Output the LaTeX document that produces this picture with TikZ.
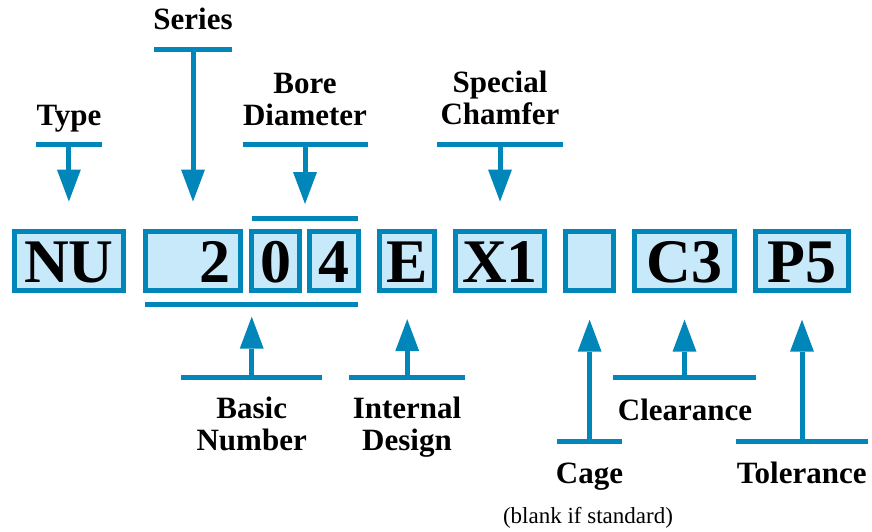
\documentclass[tikz,border=0pt]{standalone}
\usepackage{fontspec}
\setmainfont{Liberation Serif}
\usetikzlibrary{arrows.meta}
\definecolor{nblue}{RGB}{0,134,184}
\definecolor{nfill}{RGB}{199,233,249}
\begin{document}
\begin{tikzpicture}[x=1pt,y=-1pt,
  box/.style={draw=nblue,fill=nfill,line width=5pt,inner sep=0pt,
    minimum height=58.4pt,text height=42pt,text depth=0pt,
    font=\bfseries\fontsize{62}{62}\selectfont},
  lbl/.style={anchor=base,align=center,inner sep=0pt,
    font=\bfseries\fontsize{31}{32}\selectfont},
  bar/.style={draw=nblue,line width=5pt},
  arr/.style={draw=nblue,line width=5pt,
    -{Triangle[width=24pt,length=32pt,line width=0pt]}}]
\useasboundingbox (0,0) rectangle (872,531);
% boxes
\node[box,minimum width=109.3pt] (NU) at (68.9,261) {NU};
\node[box,text width=75pt,inner xsep=10.3pt,align=right] (b2) at (193,261) {2};
\node[box,minimum width=47.4pt] (b0) at (275.5,261) {0};
\node[box,minimum width=48.4pt] (b4) at (334,261) {4};
\node[box,minimum width=55pt] (bE) at (407.2,261) {E};
\node[box,minimum width=88.4pt] (bX) at (500,261) {X1};
\node[box,minimum width=47.7pt] (bB) at (589.6,261) {};
\node[box,minimum width=99.4pt] (bC) at (684.5,261) {C3};
\node[box,minimum width=92.4pt] (bP) at (802,261) {P5};
% brackets
\coordinate (bktTop) at (305,218);
\coordinate (bktBot) at (251.7,304);
\draw[bar] (251.7,218) -- (bktTop) -- (358.3,218);
\draw[bar] (145,304) -- (bktBot) -- (358.3,304);
% top labels
\node[lbl] (lType) at (69,125) {Type};
\node[lbl] (lSeries) at (193,29.3) {Series};
\node[lbl] (lBore) at (305,125) {Bore\\Diameter};
\node[lbl] (lSpec) at (500,124.5) {Special\\Chamfer};
% bottom labels
\node[lbl] (lBasic) at (251.7,450.7) {Basic\\Number};
\node[lbl] (lInt) at (407,450.7) {Internal\\Design};
\node[lbl] (lClr) at (685,420) {Clearance};
\node[lbl] (lCage) at (589.5,483.3) {Cage};
\node[lbl] (lTol) at (801.7,483.3) {Tolerance};
\node[anchor=base,inner sep=0pt,font=\fontsize{23}{24}\selectfont] (lBlank) at (588,523.3) {(blank if standard)};
% bar coordinates
\coordinate (typeC) at (68.9,144);
\coordinate (seriesC) at (193,49.3);
\coordinate (boreC) at (305,144);
\coordinate (specC) at (500,144);
\coordinate (basicC) at (251.7,377.3);
\coordinate (intC) at (407.2,377.3);
\coordinate (clrC) at (684.5,377.3);
\coordinate (cageC) at (589.6,441);
\coordinate (tolC) at (802,441);
% bars
\draw[bar] ([xshift=-33pt]typeC) -- ([xshift=33pt]typeC);
\draw[bar] ([xshift=-39pt]seriesC) -- ([xshift=39pt]seriesC);
\draw[bar] ([xshift=-62.5pt]boreC) -- ([xshift=62.5pt]boreC);
\draw[bar] ([xshift=-62.8pt]specC) -- ([xshift=62.8pt]specC);
\draw[bar] ([xshift=-70.7pt]basicC) -- ([xshift=70.7pt]basicC);
\draw[bar] ([xshift=-57.9pt]intC) -- ([xshift=57.9pt]intC);
\draw[bar] ([xshift=-71.2pt]clrC) -- ([xshift=71.2pt]clrC);
\draw[bar] ([xshift=-32.8pt]cageC) -- ([xshift=32.8pt]cageC);
\draw[bar] ([xshift=-65.6pt]tolC) -- ([xshift=65.6pt]tolC);
% arrows
\draw[arr,shorten >=27.8pt] (typeC) -- (NU.north);
\draw[arr,shorten >=27.8pt] (seriesC) -- (b2.north);
\draw[arr,shorten >=14pt] (boreC) -- (bktTop);
\draw[arr,shorten >=27.8pt] (specC) -- (bX.north);
\draw[arr,shorten >=12.7pt] (basicC) -- (bktBot);
\draw[arr,shorten >=26.5pt] (intC) -- (bE.south);
\draw[arr,shorten >=27pt] (clrC) -- (bC.south);
\draw[arr,shorten >=27pt] (cageC) -- (bB.south);
\draw[arr,shorten >=27pt] (tolC) -- (bP.south);
\end{tikzpicture}
\end{document}
